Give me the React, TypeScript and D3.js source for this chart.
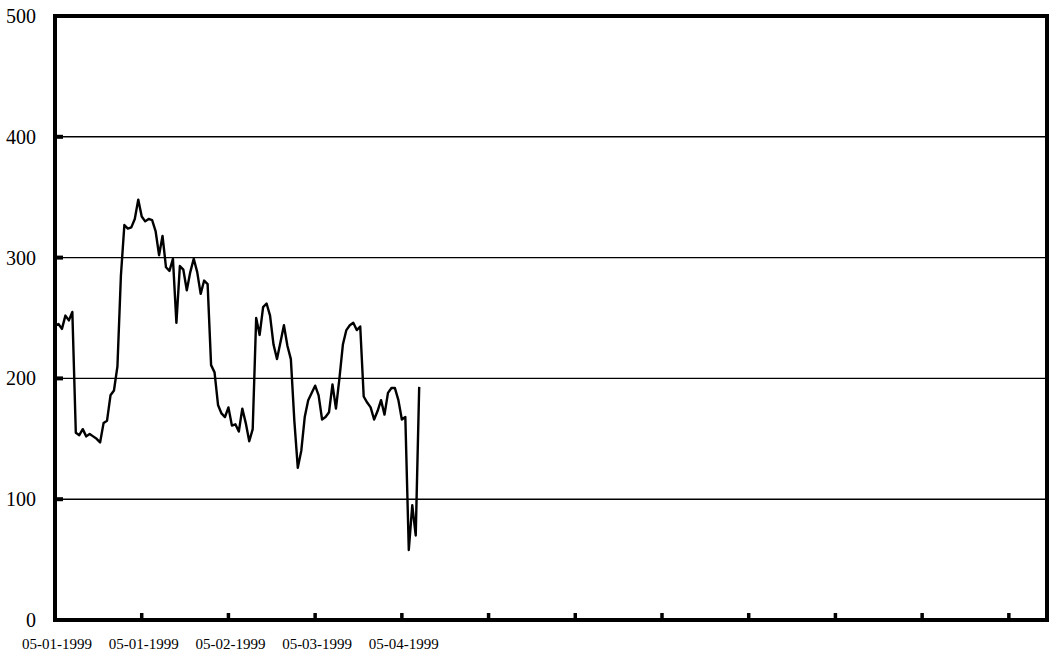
import React from "react";
import * as d3 from "d3";

// Series values (one per trading day)
const values: number[] = [
  244, 245, 241, 252, 248, 255, 155, 153, 158, 152,
  154, 152, 150, 147, 163, 165, 186, 190, 210, 285,
  327, 324, 325, 332, 348, 334, 330, 332, 331, 322,
  302, 318, 292, 289, 299, 246, 293, 290, 273, 288,
  299, 288, 270, 281, 278, 211, 205, 178, 171, 168,
  176, 161, 162, 156, 175, 163, 148, 158, 250, 236,
  259, 262, 252, 228, 216, 230, 244, 227, 216, 165,
  126, 140, 168, 182, 188, 194, 186, 166, 168, 172,
  195, 175, 200, 228, 240, 244, 246, 240, 243, 185,
  180, 176, 166, 173, 182, 170, 188, 192, 192, 182,
  166, 168, 58, 95, 70, 193,
];

// Tick labels along the x axis (one per period)
const xTickLabels: string[] = [
  "05-01-1999", "05-01-1999", "05-02-1999", "05-03-1999", "05-04-1999",
  "", "", "", "", "", "", "",
];
const pointsPerPeriod = 25;
const xDomainMax = 286;

const yTicks: number[] = [0, 100, 200, 300, 400, 500];

export default function App() {
  const W = 1053, H = 661;
  const left = 55, right = 1047, top = 16, bottom = 620;

  const x = d3.scaleLinear().domain([0, xDomainMax]).range([left, right]);
  const y = d3.scaleLinear().domain([0, 500]).range([bottom, top]);

  const line = d3
    .line<number>()
    .x((_, i) => x(i))
    .y((d) => y(d))
    .curve(d3.curveLinear);

  const font = "'Liberation Serif', 'DejaVu Serif', serif";

  return (
    <svg
      width={W}
      height={H}
      style={{ position: "absolute", left: 0, top: 0, background: "#fff" }}
    >
      <rect x={0} y={0} width={W} height={H} fill="#fff" />
      {/* gridlines */}
      {yTicks.slice(1, -1).map((t) => (
        <line
          key={"g" + t}
          x1={left}
          x2={right}
          y1={y(t)}
          y2={y(t)}
          stroke="#000"
          strokeWidth={1.4}
        />
      ))}
      {/* y tick stubs */}
      {yTicks.slice(1, -1).map((t) => (
        <line
          key={"s" + t}
          x1={left}
          x2={left + 8}
          y1={y(t)}
          y2={y(t)}
          stroke="#000"
          strokeWidth={4}
        />
      ))}
      {/* x tick stubs */}
      {xTickLabels.map((_, i) =>
        i === 0 ? null : (
          <line
            key={"xt" + i}
            x1={x(i * pointsPerPeriod)}
            x2={x(i * pointsPerPeriod)}
            y1={bottom}
            y2={bottom - 7}
            stroke="#000"
            strokeWidth={3.5}
          />
        )
      )}
      {/* data line */}
      <path
        d={line(values) || ""}
        fill="none"
        stroke="#000"
        strokeWidth={2.4}
        strokeLinejoin="round"
      />
      {/* frame */}
      <rect
        x={left}
        y={top}
        width={right - left}
        height={bottom - top}
        fill="none"
        stroke="#000"
        strokeWidth={4}
      />
      {/* y labels */}
      {yTicks.map((t) => (
        <text
          key={"yl" + t}
          x={36}
          y={y(t)}
          dy="0.35em"
          textAnchor="end"
          fontFamily={font}
          fontSize={20}
          fill="#000"
        >
          {t}
        </text>
      ))}
      {/* x labels */}
      {xTickLabels.map((lab, i) =>
        lab ? (
          <text
            key={"xl" + i}
            x={x(i * pointsPerPeriod) + 2}
            y={649}
            textAnchor="middle"
            fontFamily={font}
            fontSize={15}
            fill="#000"
          >
            {lab}
          </text>
        ) : null
      )}
    </svg>
  );
}
